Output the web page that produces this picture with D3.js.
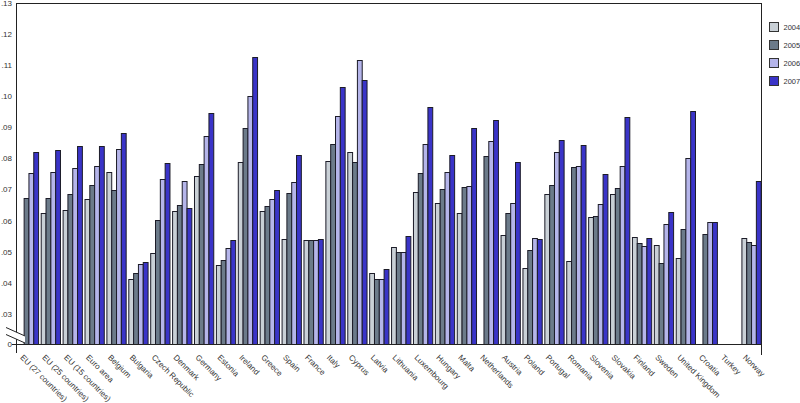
<!DOCTYPE html>
<html>
<head>
<meta charset="utf-8">
<script src="https://cdn.jsdelivr.net/npm/d3@7"></script>
<style>
  body { margin: 0; background: #fff; }
  svg { display: block; font-family: "Liberation Sans", Arial, sans-serif; }
</style>
</head>
<body>
<svg id="chart" width="800" height="403"></svg>
<script>
const categories = ["EU (27 countries)", "EU (25 countries)", "EU (15 countries)", "Euro area", "Belgium", "Bulgaria",
  "Czech Republic", "Denmark", "Germany", "Estonia", "Ireland", "Greece", "Spain", "France", "Italy", "Cyprus",
  "Latvia", "Lithuania", "Luxembourg", "Hungary", "Malta", "Netherlands", "Austria", "Poland", "Portugal",
  "Romania", "Slovenia", "Slovakia", "Finland", "Sweden", "United Kingdom", "Croatia", "Turkey", "Norway"];

const seriesNames = ["2004", "2005", "2006", "2007"];

const v2004 = [null, 0.0626, 0.0634, 0.0670, 0.0757, 0.0412, 0.0495, 0.0631, 0.0743, 0.0457, 0.0789, 0.0631, 0.0540, 0.0537,
  0.0792, 0.0820, 0.0433, 0.0515, 0.0691, 0.0657, 0.0624, null, 0.0554, 0.0447, 0.0686, 0.0471, 0.0612, 0.0685,
  0.0547, 0.0522, 0.0480, null, null, 0.0545];
const v2005 = [0.0672, 0.0672, 0.0685, 0.0714, 0.0698, 0.0432, 0.0602, 0.0650, 0.0783, 0.0474, 0.0899, 0.0646, 0.0688, 0.0537,
  0.0847, 0.0789, 0.0412, 0.0500, 0.0753, 0.0703, 0.0708, 0.0808, 0.0624, 0.0507, 0.0715, 0.0772, 0.0615, 0.0706,
  0.0528, 0.0465, 0.0573, 0.0558, null, 0.0531];
const v2006 = [0.0753, 0.0757, 0.0768, 0.0777, 0.0831, 0.0462, 0.0733, 0.0728, 0.0872, 0.0512, 0.1000, 0.0670, 0.0723, 0.0537,
  0.0936, 0.1116, 0.0412, 0.0500, 0.0846, 0.0756, 0.0712, 0.0857, 0.0657, 0.0545, 0.0820, 0.0775, 0.0653, 0.0775,
  0.0518, 0.0590, 0.0802, 0.0597, null, 0.0521];
const v2007 = [0.0822, 0.0827, 0.0839, 0.0839, 0.0882, 0.0468, 0.0787, 0.0641, 0.0945, 0.0537, 0.1127, 0.0700, 0.0812, 0.0542,
  0.1030, 0.1051, 0.0445, 0.0551, 0.0965, 0.0812, 0.0899, 0.0924, 0.0789, 0.0542, 0.0860, 0.0842, 0.0750, 0.0934,
  0.0544, 0.0629, 0.0953, 0.0597, null, 0.0727];

const yTicks = [0, 0.03, 0.04, 0.05, 0.06, 0.07, 0.08, 0.09, 0.10, 0.11, 0.12, 0.13];

const seriesValues = [v2004, v2005, v2006, v2007];
const colors = ["#c9d0d6", "#6c7b8a", "#b5b5ea", "#3a34c8"];

const svg = d3.select("#chart");

const plotLeft = 16, plotRight = 761, plotTop = 3, base = 344;

const x = d3.scaleBand().domain(categories).range([17.5, 762]).paddingInner(0.12).paddingOuter(0.06);
const xs = d3.scaleBand().domain(seriesNames).range([0, x.bandwidth()]).padding(0);
// broken axis: 0 -> baseline, then linear from .03 upward
const y = d3.scaleLinear().domain([0, 0.03, 0.13]).range([base, 314, plotTop]);

// bars
const groups = svg.append("g").selectAll("g")
  .data(categories)
  .join("g")
  .attr("transform", d => `translate(${x(d)},0)`);

groups.selectAll("rect")
  .data((d, i) => seriesNames.map((s, k) => ({ s, k, v: seriesValues[k][i] })).filter(e => e.v != null))
  .join("rect")
  .attr("x", e => xs(e.s) + 0.5)
  .attr("width", xs.bandwidth())
  .attr("y", e => Math.round(y(e.v)) + 0.5)
  .attr("height", e => base - Math.round(y(e.v)))
  .attr("fill", e => colors[e.k])
  .attr("stroke", "#1c1c28")
  .attr("stroke-width", 1);

// frame
const frame = svg.append("g").attr("stroke", "#222").attr("stroke-width", 1).attr("fill", "none");
frame.append("line").attr("x1", plotLeft + 0.5).attr("x2", plotLeft + 0.5).attr("y1", plotTop).attr("y2", 353);
frame.append("line").attr("x1", plotLeft).attr("x2", plotRight).attr("y1", plotTop + 0.5).attr("y2", plotTop + 0.5);
frame.append("line").attr("x1", plotRight + 0.5).attr("x2", plotRight + 0.5).attr("y1", plotTop).attr("y2", 355);
frame.append("line").attr("x1", 12).attr("x2", plotRight).attr("y1", base + 0.5).attr("y2", base + 0.5);

// y axis labels
const fmt = v => v === 0 ? "0" : d3.format(".2f")(v).replace(/^0/, "");
svg.append("g").selectAll("text")
  .data(yTicks)
  .join("text")
  .attr("x", 12)
  .attr("y", d => y(d))
  .attr("dy", "0.35em")
  .attr("text-anchor", "end")
  .attr("font-size", 8)
  .attr("fill", "#333")
  .text(fmt);

// axis break marks
const brk = svg.append("g");
brk.append("polygon")
  .attr("points", "6,327.5 25,336 25,343 6,334.5")
  .attr("fill", "#fff");
brk.append("line").attr("x1", 6).attr("y1", 327.5).attr("x2", 25).attr("y2", 336).attr("stroke", "#222");
brk.append("line").attr("x1", 6).attr("y1", 334.5).attr("x2", 25).attr("y2", 343).attr("stroke", "#222");

// x labels
svg.append("g").selectAll("text")
  .data(categories)
  .join("text")
  .attr("transform", d => `translate(${x(d) + 1},${base + 14}) rotate(45)`)
  .attr("font-size", 8)
  .attr("fill", "#333")
  .text(d => d);

// legend
const lg = svg.append("g").selectAll("g")
  .data(seriesNames)
  .join("g")
  .attr("transform", (d, i) => `translate(769.5,${22.5 + i * 18})`);
lg.append("rect")
  .attr("width", 9).attr("height", 9)
  .attr("fill", (d, i) => colors[i])
  .attr("stroke", "#333");
lg.append("text")
  .attr("x", 14).attr("y", 4.5).attr("dy", "0.35em")
  .attr("font-size", 7.5)
  .attr("fill", "#333")
  .text(d => d);
</script>
</body>
</html>
